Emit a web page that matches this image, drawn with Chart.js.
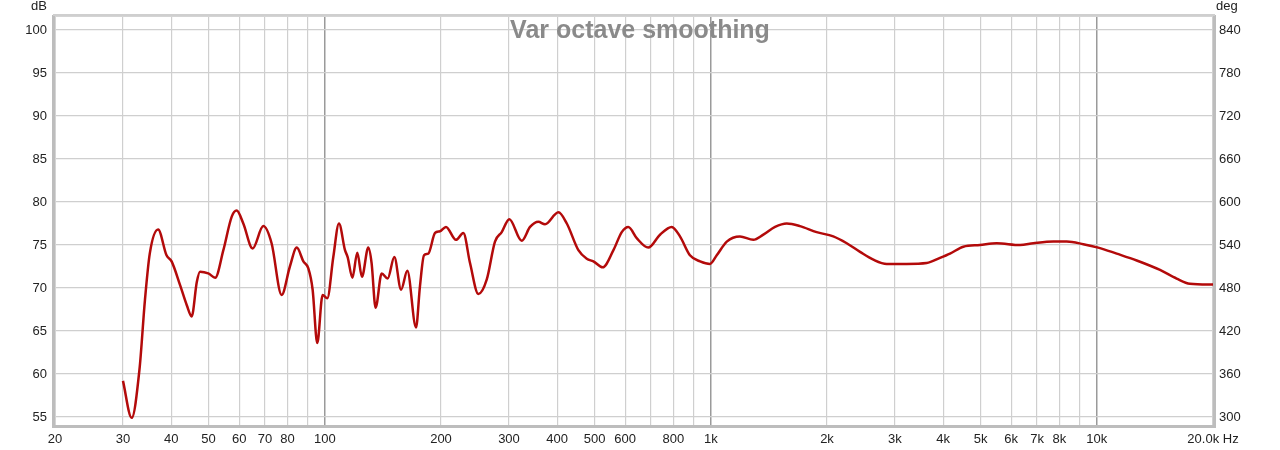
<!DOCTYPE html>
<html>
<head>
<meta charset="utf-8">
<script src="https://cdn.jsdelivr.net/npm/chart.js@4.4.1/dist/chart.umd.min.js"></script>
<style>
  html, body { margin: 0; padding: 0; background: #fff; }
  #wrap { width: 1280px; height: 450px; }
</style>
</head>
<body>
<div id="wrap"><canvas id="frChart" width="1280" height="450"></canvas></div>
<script>
// frequency (Hz) and SPL (dB)
const freqs = [30, 31.6, 33.1, 34.2, 35.2, 37.0, 38.9, 40.1, 42.2, 43.9, 45.2, 46.6, 47.5, 49.9, 52.0,
    54.6, 57.4, 59.1, 61.5, 65.0, 69.3, 72.8, 77.3, 81.2, 84.6, 88.0, 90.6, 93.0, 95.6, 98.7,
    101.5, 105.2, 108.8, 112.8, 114.6, 117.9, 121.4, 124.8, 129.6, 132.2, 135.4, 140.4, 145.5, 151.4,
    157.6, 163.6, 172.3, 176.4, 180.7, 185.4, 193.0, 198.8, 206.0, 218.7, 228.5, 237.8, 250.0, 262.8,
    276.0, 287.3, 300.6, 323.7, 340.2, 357.5, 372, 402.9, 423.6, 453.9, 477.2, 496.4, 524.9, 559.4,
    587.9, 611.4, 642.8, 688.7, 738.7, 792, 832, 883, 938, 995, 1036, 1100, 1190, 1289, 1368, 1467,
    1573, 1702, 1880, 2076, 2250, 2436, 2637, 2856, 3217, 3625, 3925, 4166, 4511, 4981, 5505, 6325,
    6847, 7716, 8357, 9227, 10090, 11260, 12690, 14580, 16100, 17430, 20000];
const spl = [59.2, 54.9, 60.5, 68.6, 74.0, 76.8, 73.8, 73.1, 70.3, 68.0, 66.7, 70.7, 71.9, 71.7, 71.2,
    74.4, 78.3, 79.0, 77.5, 74.6, 77.2, 75.2, 69.2, 72.5, 74.7, 73.1, 72.3, 69.8, 63.6, 69.2,
    68.8, 73.6, 77.5, 74.4, 73.6, 71.2, 74.1, 71.3, 74.7, 72.9, 67.7, 71.7, 71.1, 73.6,
    69.8, 72.0, 65.4, 70.2, 73.8, 74.0, 76.4, 76.6, 77.1, 75.6, 76.4, 72.9, 69.3, 71.0,
    75.4, 76.5, 78.0, 75.5, 77.1, 77.7, 77.4, 78.8, 77.5, 74.4, 73.4, 73.1, 72.4, 74.4,
    76.5, 77.1, 75.8, 74.7, 76.2, 77.1, 76.0, 73.8, 73.1, 72.8, 73.8, 75.4, 76.0, 75.6, 76.2, 77.1,
    77.5, 77.2, 76.5, 76.0, 75.2, 74.2, 73.3, 72.8, 72.8, 72.9, 73.5, 74.0, 74.8, 75.0, 75.2, 75.0,
    75.2, 75.4, 75.4, 75.1, 74.7, 74.0, 73.2, 72.1, 71.1, 70.5, 70.4];

const xTicks = [20, 30, 40, 50, 60, 70, 80, 90, 100, 200, 300, 400, 500, 600, 700, 800, 900, 1000,
    2000, 3000, 4000, 5000, 6000, 7000, 8000, 9000, 10000, 20000];
const xTickLabels = ['20', '30', '40', '50', '60', '70', '80', '', '100', '200', '300', '400', '500', '600', '',
    '800', '', '1k', '2k', '3k', '4k', '5k', '6k', '7k', '8k', '', '10k', '20.0k Hz'];
const dbTicks = [55, 60, 65, 70, 75, 80, 85, 90, 95, 100];
const degTicks = [300, 360, 420, 480, 540, 600, 660, 720, 780, 840];

const FONT = "'Liberation Sans', Arial, sans-serif";

const decorPlugin = {
    id: 'decor',
    beforeDatasetsDraw(chart) {
        const { ctx } = chart;
        ctx.save();
        ctx.font = 'bold 25px ' + FONT;
        ctx.fillStyle = '#8a8a8a';
        ctx.textAlign = 'center';
        ctx.textBaseline = 'middle';
        ctx.fillText('Var octave smoothing', chart.width / 2, 31);
        ctx.restore();
    },
    afterDraw(chart) {
        const { ctx, chartArea: a } = chart;
        ctx.save();
        // frame
        ctx.strokeStyle = '#d4d4d4';
        ctx.lineWidth = 1;
        ctx.strokeRect(a.left + 0.5, a.top + 0.5, a.right - a.left, a.bottom - a.top);
        ctx.strokeStyle = '#bdbdbd';
        ctx.lineWidth = 3;
        ctx.beginPath();
        ctx.moveTo(a.left - 1.5, a.top - 1);
        ctx.lineTo(a.left - 1.5, a.bottom + 1.5);
        ctx.lineTo(a.right + 1.5, a.bottom + 1.5);
        ctx.lineTo(a.right + 1.5, a.top - 1);
        ctx.stroke();
        ctx.strokeStyle = '#cfcfcf';
        ctx.lineWidth = 2;
        ctx.beginPath();
        ctx.moveTo(a.left - 2, a.top - 1);
        ctx.lineTo(a.right + 2, a.top - 1);
        ctx.stroke();
        // axis units
        ctx.font = '13px ' + FONT;
        ctx.fillStyle = '#222';
        ctx.textBaseline = 'middle';
        ctx.textAlign = 'right';
        ctx.fillText('dB', 47, 6);
        ctx.textAlign = 'left';
        ctx.fillText('deg', 1216, 6);
        ctx.restore();
    }
};

new Chart(document.getElementById('frChart').getContext('2d'), {
    type: 'line',
    data: {
        datasets: [{
            data: freqs.map((f, i) => ({ x: f, y: spl[i] })),
            borderColor: '#b30a0a',
            borderWidth: 2.5,
            pointRadius: 0,
            fill: false,
            cubicInterpolationMode: 'monotone',
            yAxisID: 'y'
        }]
    },
    options: {
        responsive: false,
        animation: false,
        layout: { padding: { top: 16, left: 0, right: 0, bottom: 0 } },
        plugins: {
            legend: { display: false },
            tooltip: { enabled: false }
        },
        scales: {
            x: {
                type: 'logarithmic',
                min: 20,
                max: 20000,
                afterBuildTicks: s => { s.ticks = xTicks.map(v => ({ value: v })); },
                afterFit: s => { s.height = 25; },
                ticks: {
                    autoSkip: false,
                    maxRotation: 0,
                    padding: 7,
                    color: '#222',
                    font: { family: FONT, size: 13 },
                    callback: (v, i) => xTickLabels[i]
                },
                grid: {
                    drawTicks: false,
                    color: c => [100, 1000, 10000].includes(c.tick && c.tick.value) ? '#9a9a9a' : '#cfcfcf',
                    lineWidth: c => [100, 1000, 10000].includes(c.tick && c.tick.value) ? 1.5 : 1.2
                },
                border: { display: false }
            },
            y: {
                position: 'left',
                min: 54.07,
                max: 101.63,
                afterBuildTicks: s => { s.ticks = dbTicks.map(v => ({ value: v })); },
                afterFit: s => { s.width = 55; },
                ticks: {
                    padding: 8,
                    color: '#222',
                    font: { family: FONT, size: 13 }
                },
                grid: { drawTicks: false, color: '#cfcfcf', lineWidth: 1.2 },
                border: { display: false }
            },
            y2: {
                position: 'right',
                min: 288.8,
                max: 859.6,
                afterBuildTicks: s => { s.ticks = degTicks.map(v => ({ value: v })); },
                afterFit: s => { s.width = 67; },
                ticks: {
                    padding: 6,
                    color: '#222',
                    font: { family: FONT, size: 13 }
                },
                grid: { display: false, drawTicks: false },
                border: { display: false }
            }
        }
    },
    plugins: [decorPlugin]
});
</script>
</body>
</html>
